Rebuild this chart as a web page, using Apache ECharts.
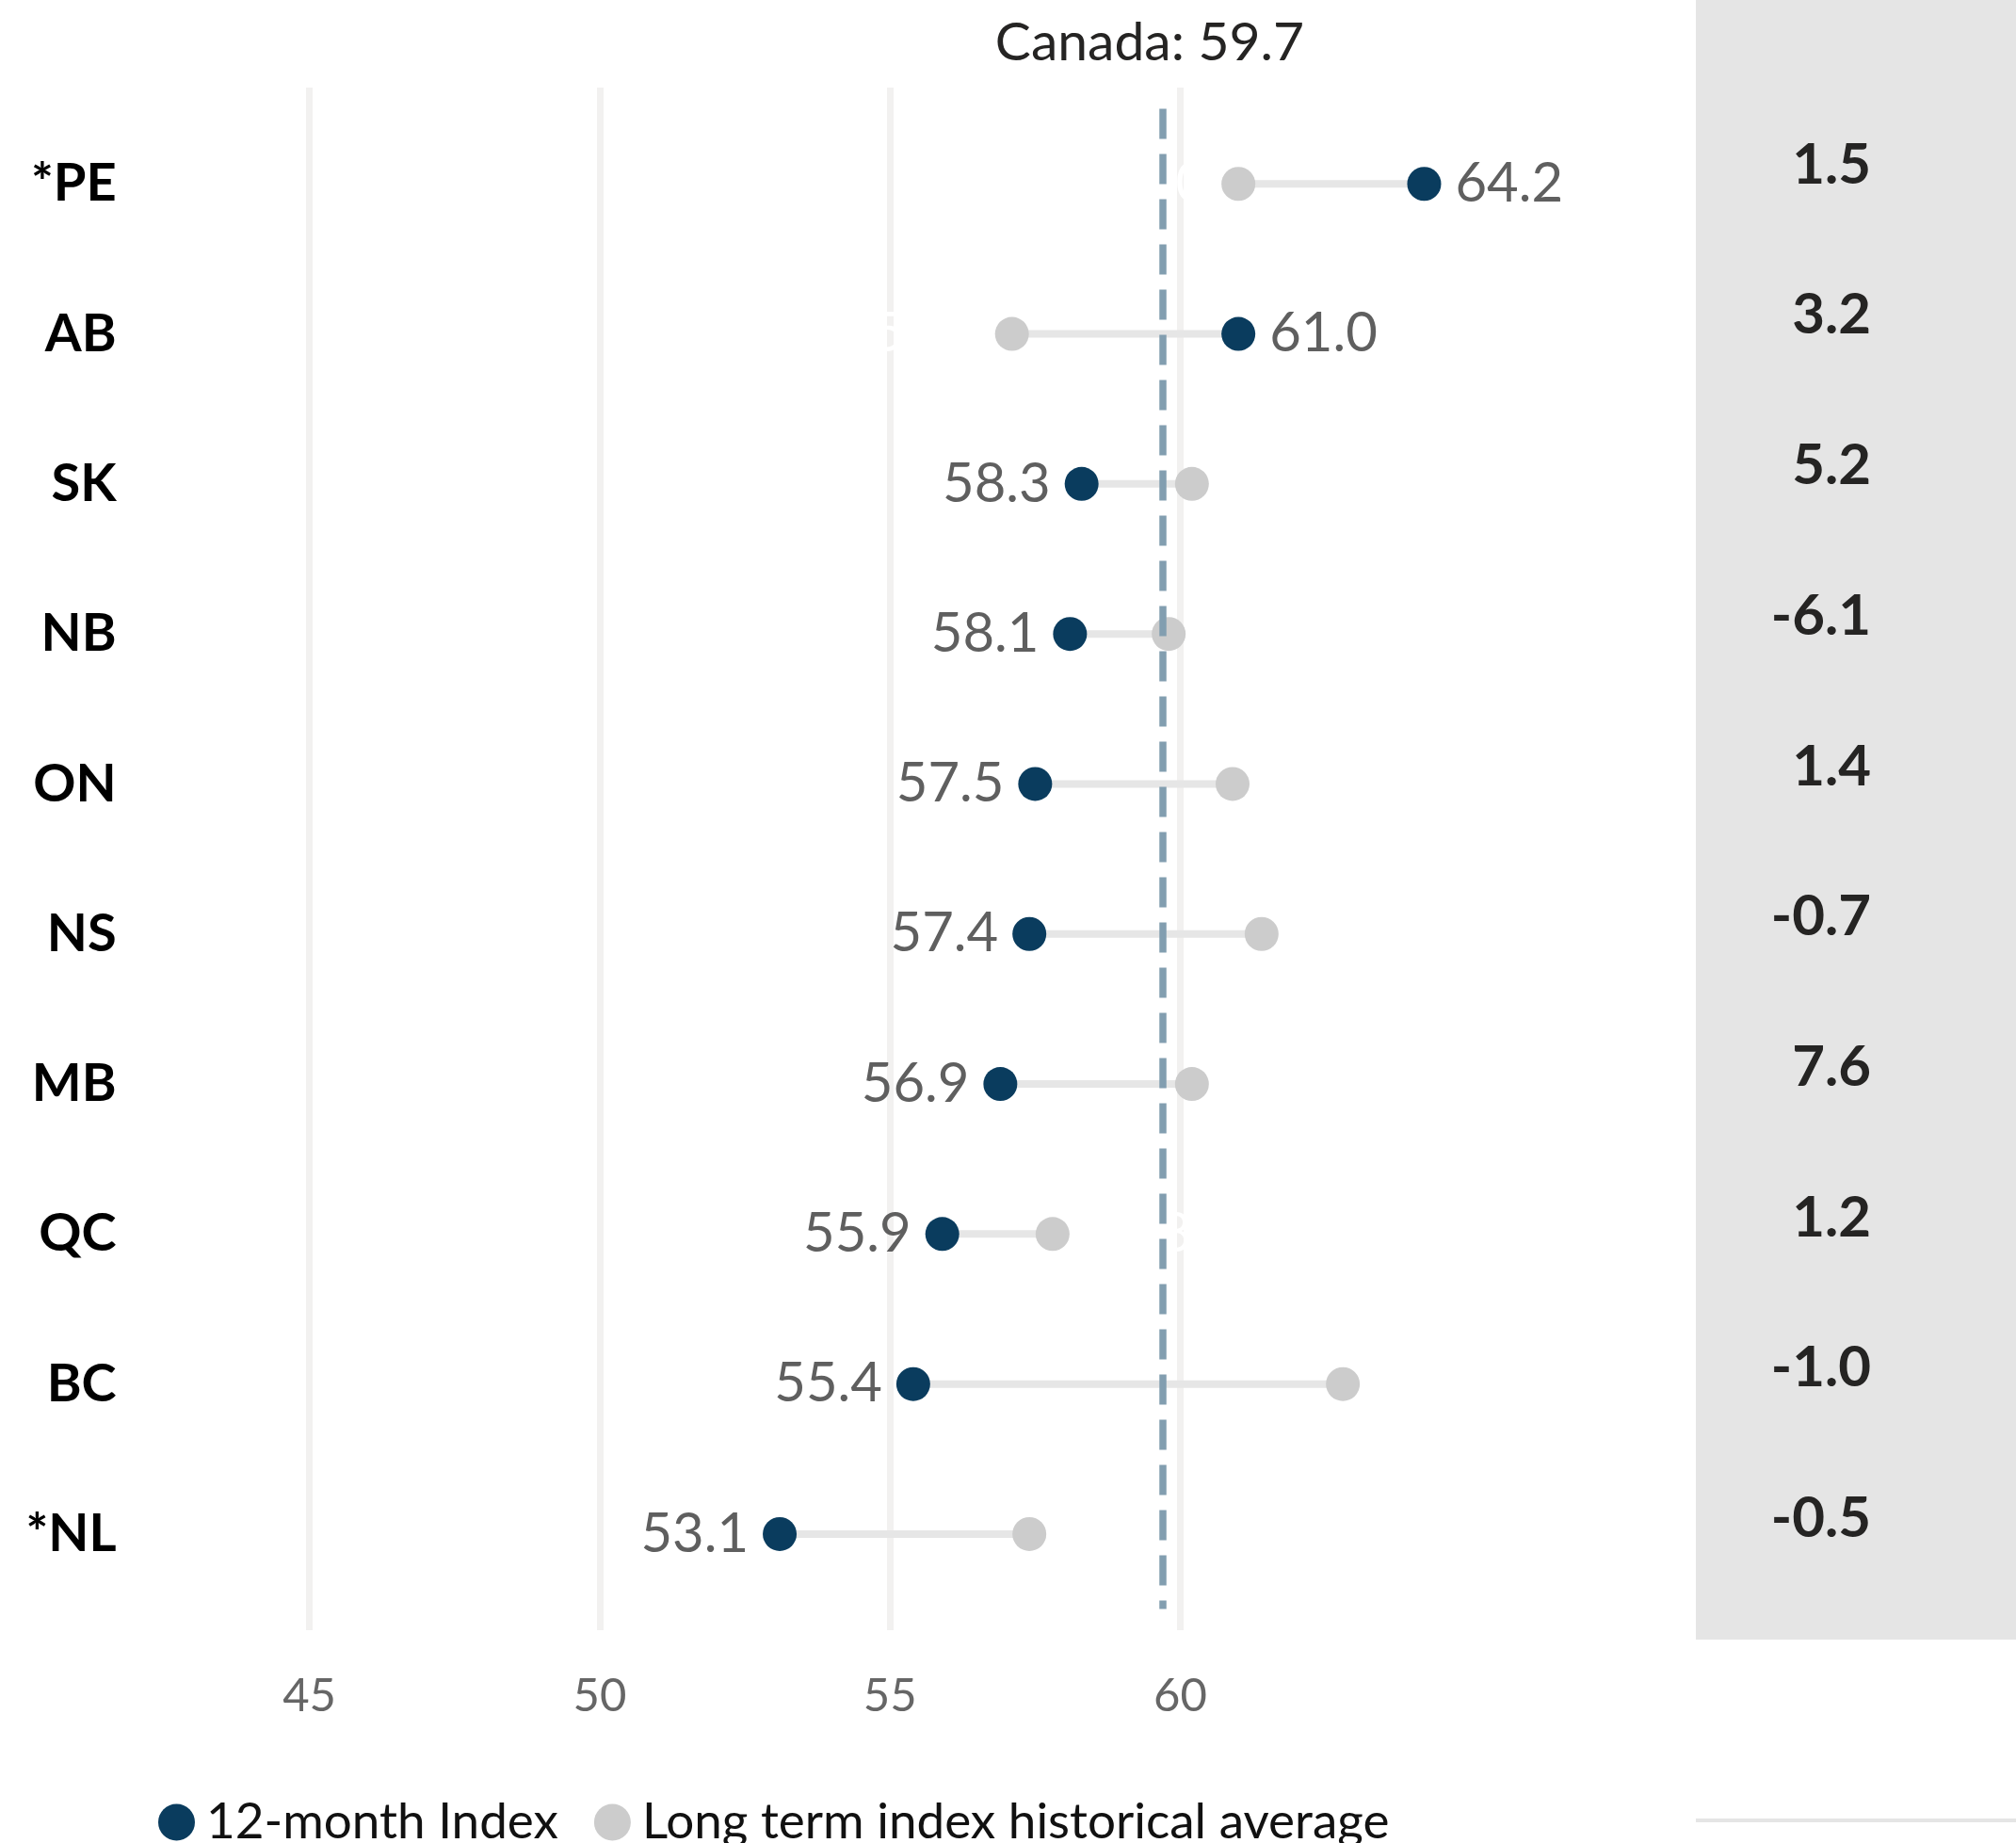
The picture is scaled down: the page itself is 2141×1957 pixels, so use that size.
<!DOCTYPE html>
<html>
<head>
<meta charset="utf-8">
<script src="https://cdn.jsdelivr.net/npm/echarts@6/dist/echarts.min.js"></script>
<style>html,body{margin:0;padding:0;background:#fff}#c{width:2141px;height:1957px}</style>
</head>
<body>
<div id="c"></div>
<script>
const categories = ['*PE', 'AB', 'SK', 'NB', 'ON', 'NS', 'MB', 'QC', 'BC', '*NL'];
const index12 = [64.2, 61.0, 58.3, 58.1, 57.5, 57.4, 56.9, 55.9, 55.4, 53.1];
const longTerm = [61.0, 57.1, 60.2, 59.8, 60.9, 61.4, 60.2, 57.8, 62.8, 57.4];
const change = [1.5, 3.2, 5.2, -6.1, 1.4, -0.7, 7.6, 1.2, -1.0, -0.5];
const canadaAvg = 59.7;
const xTicks = [45, 50, 55, 60];
const seriesNames = ['12-month Index', 'Long term index historical average'];

const FONT = 'Lato, "Open Sans", sans-serif';
const X_MIN = 45, X_MAX = 65;
const gridL = 328.6, gridR = 579.2;

const chart = echarts.init(document.getElementById('c'), null, {renderer: 'canvas'});

const darkData = categories.map((c, i) => ({
  value: [index12[i], c],
  label: {position: index12[i] >= longTerm[i] ? 'right' : 'left'}
}));
const greyData = categories.map((c, i) => ({
  value: [longTerm[i], c],
  label: {position: index12[i] >= longTerm[i] ? 'left' : 'right'}
}));
const linkData = categories.map((c, i) => [index12[i], longTerm[i], i]);

const option = {
  animation: false,
  backgroundColor: '#ffffff',
  title: {
    text: 'Canada: ' + canadaAvg.toFixed(1),
    left: 1216, top: 12, textAlign: 'center',
    textStyle: {fontFamily: FONT, fontSize: 57, fontWeight: 'normal', color: '#252423'}
  },
  graphic: [
    {type: 'rect', z: -100, silent: true, shape: {x: 1801, y: 0, width: 340, height: 1741}, style: {fill: '#e5e5e5'}},
    {type: 'rect', z: -100, silent: true, shape: {x: 1801, y: 1931, width: 340, height: 4}, style: {fill: '#e5e5e5'}}
  ],
  legend: {
    data: seriesNames,
    left: 163, top: 1900,
    icon: 'circle', itemWidth: 39, itemHeight: 39, itemGap: 38,
    selectedMode: false,
    textStyle: {fontFamily: FONT, fontSize: 53, color: '#111111', padding: [0, 0, 0, 7], lineHeight: 60}
  },
  grid: [
    {left: gridL, right: gridR, top: 93, height: 1638},
    {left: gridL, right: gridR, top: 115.6, height: 1593},
    {left: 1990, width: 100, top: 95.6, height: 1597}
  ],
  xAxis: [
    {
      gridIndex: 0, type: 'value', min: X_MIN, max: X_MAX, interval: 5,
      axisLine: {show: false}, axisTick: {show: false},
      splitLine: {show: true, showMinLine: true, showMaxLine: false, lineStyle: {color: '#f2f1f0', width: 7}},
      axisLabel: {
        show: true, margin: 46, showMaxLabel: false,
        fontFamily: FONT, fontSize: 49, color: '#666666',
        formatter: v => xTicks.indexOf(v) >= 0 ? String(v) : ''
      }
    },
    {gridIndex: 1, type: 'value', min: X_MIN, max: X_MAX, show: false},
    {gridIndex: 2, type: 'value', min: 0, max: 1, show: false}
  ],
  yAxis: [
    {gridIndex: 0, type: 'value', show: false, splitLine: {show: false}},
    {
      gridIndex: 1, type: 'category', data: categories, inverse: true,
      axisLine: {show: false}, axisTick: {show: false}, splitLine: {show: false},
      axisLabel: {margin: 205, fontFamily: FONT, fontSize: 56, fontWeight: 'bold', color: '#000000'}
    },
    {
      gridIndex: 2, type: 'category', data: change.map(v => v.toFixed(1)), inverse: true,
      axisLine: {show: false}, axisTick: {show: false}, splitLine: {show: false},
      axisLabel: {margin: 3, fontFamily: FONT, fontSize: 60, fontWeight: 'bold', color: '#252423'}
    }
  ],
  series: [
    {
      type: 'custom', xAxisIndex: 1, yAxisIndex: 1, z: 2, silent: true,
      encode: {x: [0, 1], y: 2},
      data: linkData,
      renderItem: (params, api) => {
        const a = api.coord([api.value(0), api.value(2)]);
        const b = api.coord([api.value(1), api.value(2)]);
        return {type: 'line', shape: {x1: a[0], y1: a[1], x2: b[0], y2: b[1]},
                style: {stroke: '#e6e6e6', lineWidth: 8}};
      }
    },
    {
      name: seriesNames[1], type: 'scatter', xAxisIndex: 1, yAxisIndex: 1, z: 3, silent: true,
      symbol: 'circle', symbolSize: 36,
      itemStyle: {color: '#cccccc', opacity: 1},
      label: {show: true, distance: 15, fontFamily: FONT, fontSize: 58, color: '#ffffff',
              formatter: p => p.value[0].toFixed(1)},
      emphasis: {disabled: true},
      data: greyData
    },
    {
      name: seriesNames[0], type: 'scatter', xAxisIndex: 1, yAxisIndex: 1, z: 4, silent: true,
      symbol: 'circle', symbolSize: 36,
      itemStyle: {color: '#0a3c5e', opacity: 1},
      label: {show: true, distance: 15, fontFamily: FONT, fontSize: 58, color: '#5f5f5f',
              formatter: p => p.value[0].toFixed(1)},
      emphasis: {disabled: true},
      data: darkData,
      markLine: {
        silent: true, symbol: 'none', animation: false,
        label: {show: false},
        emphasis: {disabled: true},
        lineStyle: {color: '#829eb0', width: 7.5, type: [32, 16], opacity: 1},
        data: [{xAxis: canadaAvg}]
      }
    }
  ]
};
chart.setOption(option);
</script>
</body>
</html>
